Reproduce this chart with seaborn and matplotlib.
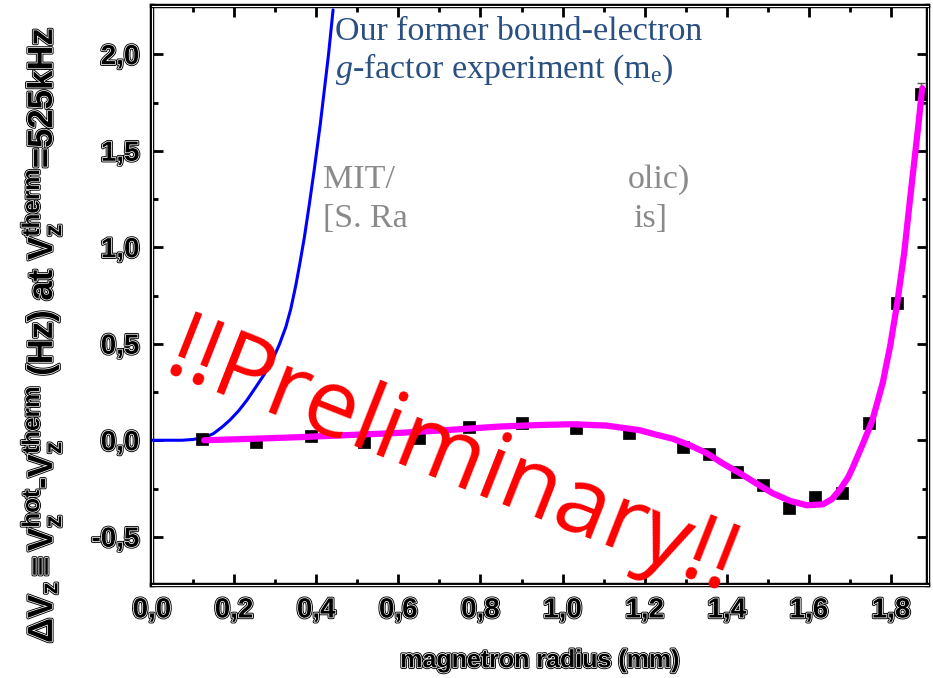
import matplotlib
matplotlib.use('Agg')
import matplotlib.pyplot as plt
import seaborn as sns
import numpy as np
import pandas as pd
from matplotlib import patheffects as pe
from matplotlib import font_manager as fm

# ---------------- data ----------------
r_data = [0.122, 0.254, 0.388, 0.517, 0.651, 0.773, 0.902, 1.032, 1.161, 1.293,
          1.356, 1.424, 1.488, 1.551, 1.615, 1.680, 1.746, 1.814, 1.874]
dv_data = [0.005, -0.010, 0.020, -0.010, 0.010, 0.070, 0.090, 0.065, 0.040, -0.035,
           -0.070, -0.165, -0.230, -0.350, -0.295, -0.275, 0.090, 0.710, 1.795]
dv_err = [0.015, 0.015, 0.015, 0.015, 0.010, 0.010, 0.010, 0.030, 0.020, 0.015,
          0.015, 0.015, 0.015, 0.015, 0.015, 0.015, 0.020, 0.020, 0.055]

fit_r = [0.127, 0.250, 0.359, 0.480, 0.602, 0.720, 0.846, 0.944, 1.024, 1.107,
         1.188, 1.228, 1.268, 1.310, 1.351, 1.390, 1.432, 1.472, 1.512, 1.554,
         1.595, 1.634, 1.656, 1.676, 1.696, 1.707, 1.732, 1.754, 1.768, 1.780,
         1.798, 1.815, 1.832, 1.846, 1.866, 1.876]
fit_dv = [0.000, 0.008, 0.016, 0.027, 0.038, 0.053, 0.071, 0.079, 0.083, 0.076,
          0.052, 0.029, 0.008, -0.026, -0.067, -0.120, -0.171, -0.224, -0.275, -0.314,
          -0.337, -0.332, -0.305, -0.255, -0.190, -0.140, -0.016, 0.100, 0.207, 0.300,
          0.490, 0.710, 0.970, 1.244, 1.622, 1.824]

old_r = [0.000, 0.073, 0.100, 0.131, 0.150, 0.171, 0.190, 0.212, 0.232, 0.253,
         0.273, 0.293, 0.310, 0.326, 0.338, 0.350, 0.360, 0.371, 0.383, 0.395,
         0.410, 0.430, 0.441]
old_dv = [0.000, 0.000, 0.004, 0.017, 0.035, 0.069, 0.105, 0.155, 0.210, 0.276,
          0.340, 0.414, 0.495, 0.587, 0.680, 0.800, 0.915, 1.050, 1.220, 1.400,
          1.640, 2.000, 2.230]

xtick_vals = [0.0, 0.2, 0.4, 0.6, 0.8, 1.0, 1.2, 1.4, 1.6, 1.8]
xtick_labels = ['0,0', '0,2', '0,4', '0,6', '0,8', '1,0', '1,2', '1,4', '1,6', '1,8']
ytick_vals = [-0.5, 0.0, 0.5, 1.0, 1.5, 2.0]
ytick_labels = ['-0,5', '0,0', '0,5', '1,0', '1,5', '2,0']


def has_font(name):
    try:
        fm.findfont(fm.FontProperties(family=name), fallback_to_default=False)
        return True
    except Exception:
        return False


NARROW = has_font('Liberation Sans Narrow')
label_family = 'Liberation Sans Narrow' if NARROW else 'Liberation Sans'

# ---------------- style ----------------
sns.set_theme(style='ticks')
plt.rcParams['font.family'] = ['Liberation Sans', 'DejaVu Sans']
plt.rcParams['mathtext.fontset'] = 'custom'
plt.rcParams['mathtext.rm'] = 'Liberation Serif'
plt.rcParams['mathtext.it'] = 'Liberation Serif:italic'
plt.rcParams['mathtext.bf'] = label_family + ':bold'
plt.rcParams['mathtext.sf'] = label_family + ':bold'

W, H = 933, 678
fig = plt.figure(figsize=(W / 100, H / 100), dpi=100)
ax = fig.add_axes([152 / W, 1 - 585 / H, (928 - 152) / W, (585 - 6) / H])

sns.lineplot(x=old_r, y=old_dv, ax=ax, color='#0000ff', linewidth=2.2,
             sort=False, estimator=None, zorder=3)
ax.errorbar(r_data, dv_data, yerr=dv_err, fmt='none', ecolor='#555555',
            elinewidth=1, capsize=3, capthick=1, zorder=4)
sns.scatterplot(x=r_data, y=dv_data, ax=ax, marker='s', s=80, color='black',
                edgecolor='black', linewidth=0.5, zorder=5)
sns.lineplot(x=fit_r, y=fit_dv, ax=ax, color='#ff00ff', linewidth=4.5,
             sort=False, estimator=None, zorder=6)

ax.set_xlim(0, 1.89)
ax.set_ylim(-0.75, 2.25)

double = [pe.Stroke(linewidth=2.4, foreground='black'),
          pe.Stroke(linewidth=1.1, foreground='white'),
          pe.Normal()]

ax.set_xticks(xtick_vals, labels=xtick_labels)
ax.set_yticks(ytick_vals, labels=ytick_labels)
ax.set_xticks(np.arange(0.1, 1.9, 0.2), minor=True)
ax.set_yticks([-0.25, 0.25, 0.75, 1.25, 1.75], minor=True)
ax.tick_params(which='both', direction='in', top=True, right=True, width=2,
               color='black')
ax.tick_params(which='major', length=8, pad=9)
ax.tick_params(which='minor', length=4)
for lab in ax.get_xticklabels() + ax.get_yticklabels():
    lab.set_fontsize(20)
    lab.set_fontweight('bold')
    lab.set_color('black')
    lab.set_path_effects(double)

for sp in ax.spines.values():
    sp.set_linewidth(3.2)
    sp.set_color('black')
    sp.set_path_effects([pe.Normal(), pe.Stroke(linewidth=0.8, foreground='white')])

ax.set_xlabel('magnetron radius (mm)', fontsize=22 if NARROW else 18,
              fontweight='bold', family=label_family,
              color='black', va='center', path_effects=double)
ax.xaxis.set_label_coords(0.5, -0.13)
ylab = (r'$\mathbf{\Delta V_z \equiv V_z^{hot}}$-$\mathbf{V_z^{therm}}$ (Hz) at '
        r'$\mathbf{V_z^{therm}}$=525kHz')
ax.set_ylabel(ylab, fontsize=29 if NARROW else 25, fontweight='bold',
              family=label_family, color='black',
              va='center', ha='center', path_effects=double)
ax.yaxis.set_label_coords(-0.143, 0.432)

# annotations
blue_txt = '#2a5082'
fs_note = 24.5
fig.text(335 / W, 1 - 40 / H, 'Our former bound-electron', color=blue_txt,
         fontsize=fs_note, family='Liberation Serif', va='baseline', ha='left')
fig.text(335 / W, 1 - 78 / H, r'$\mathit{g}$-factor experiment (m$_\mathrm{e}$)',
         color=blue_txt, fontsize=fs_note, family='Liberation Serif',
         va='baseline', ha='left')

gray_txt = '#8a8a8a'
for txt, px, py in [('MIT/', 323, 188), ('olic)', 628, 188),
                    ('[S. Ra', 323, 227), ('is]', 633, 227)]:
    fig.text(px / W, 1 - py / H, txt, color=gray_txt, fontsize=fs_note,
             family='Liberation Serif', va='baseline', ha='left')

ax.text(0.728, -0.103, '!!Preliminary!!', color='#ff0000', fontsize=68,
        family='Open Sans', rotation=-21.5, rotation_mode='anchor',
        ha='center', va='center', zorder=10)

fig.savefig('out.png', dpi=100)
